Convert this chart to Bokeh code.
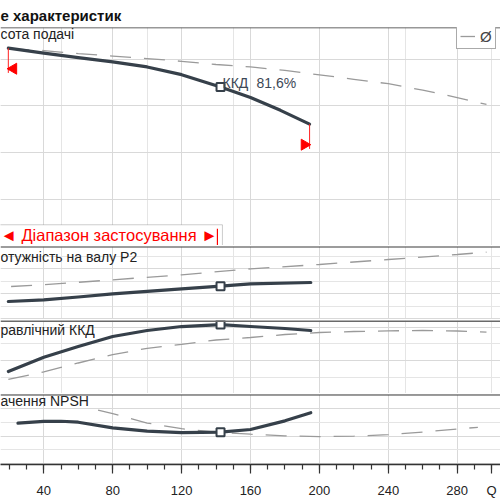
import math
from bokeh.plotting import figure
from bokeh.layouts import column
from bokeh.models import (Range1d, Grid, SingleIntervalTicker, FixedTicker, Label, Legend,
                          LegendItem, BoxAnnotation, Span)
from bokeh.core.properties import value
from bokeh.embed import file_html
from bokeh.resources import INLINE

# ---------------- texts ----------------
TITLE = "е характеристик"
LABEL_H = "сота подачі"
LABEL_P = "отужність на валу P2"
LABEL_EFF = "равлічний ККД"
LABEL_NPSH = "ачення NPSH"
RANGE_TEXT = "◄ Діапазон застосування ►"
LEGEND_TEXT = "Ø"
X_LABEL = "Q"
BEP_TEXT = "ККД"

# ---------------- data ----------------
x_ticks = [40, 80, 120, 160, 200, 240, 280]
x_label_pos = 300

# head (m)
q_h_solid = [19.4, 40, 60, 80, 100, 120, 142.6, 160, 177.4, 194.3]
h_solid = [42.33, 41.27, 40.32, 39.41, 38.31, 36.66, 34.02, 31.76, 29.02, 26.06]
q_h_dash = [19.4, 40, 60, 80, 100, 120, 140, 160, 180, 200, 220, 240, 260, 280, 297]
h_dash = [42.22, 41.82, 41.16, 40.64, 40.11, 39.52, 38.84, 38.31, 37.57, 36.62,
          35.67, 34.72, 33.35, 31.76, 30.28]

# shaft power P2 (kW)
q_p_solid = [19.4, 40, 60, 80, 100, 120, 142.6, 160, 195]
p_solid = [16.8, 17.48, 18.6, 19.88, 20.88, 21.88, 22.92, 23.88, 24.4]
q_p_dash = [21, 40, 80, 120, 160, 200, 240, 280, 297]
p_dash = [22.8, 23.48, 25.48, 27.48, 29.88, 31.6, 33.6, 35.6, 36.52]

# hydraulic efficiency (%)
q_e_solid = [19.4, 40, 60, 80, 100, 120, 142.6, 160, 180, 195]
e_solid = [53.4, 62.0, 68.4, 74.4, 78.0, 80.4, 81.6, 80.4, 79.2, 78.0]
q_e_dash = [19.4, 40, 60, 80, 100, 120, 140, 160, 180, 200, 220, 240, 260, 280, 297]
e_dash = [48.6, 53.2, 58.5, 63.5, 67.3, 69.7, 72.3, 73.8, 75.6, 76.8, 77.4, 77.8,
          78.0, 77.7, 77.0]

# NPSH (m)
q_n_solid = [25, 40, 50, 60, 80, 100, 120, 142.6, 160, 180, 195]
n_solid = [2.94, 3.06, 3.07, 3.0, 2.59, 2.35, 2.24, 2.28, 2.47, 3.1, 3.69]
q_n_dash = [71.5, 80, 100, 120, 140, 160, 180, 200, 220, 240, 260, 280, 292]
n_dash = [3.88, 3.62, 2.94, 2.53, 2.28, 2.13, 2.01, 1.96, 1.99, 2.1, 2.29, 2.51, 2.63]

# best efficiency point
q_bep = 142.6
h_bep = 34.02
p_bep = 22.92
e_bep = 81.6
n_bep = 2.28

# application range legend box
range_box_right_q = 143.7
range_box_top_h = 4.51
range_text_h = 2.29
range_mark_q = 140.8
range_mark_top_h = 3.66

# ---------------- style ----------------
SOLID = "#36404a"
DASH = "#9a9a9a"
GRID = "#d9d9d9"
FONT = "Liberation Sans"
W = 500

XR = Range1d(14.86, 305.14)


def base_fig(height, yr, top, bottom=0):
    p = figure(width=W, height=height, x_range=XR, y_range=yr, output_backend="svg",
               toolbar_location=None, x_axis_location=None, y_axis_location=None,
               min_border_left=0, min_border_right=0, min_border_top=top,
               min_border_bottom=bottom)
    p.outline_line_color = None
    p.background_fill_color = "white"
    p.border_fill_color = "white"
    return p


def add_grids(p, yint, with_x=True):
    if with_x:
        gx = Grid(dimension=0, ticker=FixedTicker(ticks=x_ticks),
                  grid_line_color=GRID, grid_line_width=1)
        p.add_layout(gx)
    gy = Grid(dimension=1, ticker=SingleIntervalTicker(interval=yint),
              grid_line_color=GRID, grid_line_width=1)
    p.add_layout(gy)


def panel_label(p, text, y):
    p.add_layout(Label(x=0, y=y, x_units="screen", y_units="screen", text=text,
                       text_font=FONT, text_font_size="14px", text_color="#222222",
                       text_baseline="top", text_align="left"))


def curves(p, qd, yd, qs, ys, qb, yb):
    r_dash = p.line(qd, yd, line_color=DASH, line_width=1.3, line_dash="21 13")
    p.line(qs, ys, line_color=SOLID, line_width=3.2, line_cap="round",
           line_join="round")
    p.scatter([qb], [yb], marker="square", size=8, fill_color="white",
              line_color=SOLID, line_width=2)
    return r_dash


# ---------- panel 1: head ----------
p1 = base_fig(245, Range1d(0.07, 46.76), top=24)
p1.title.text = TITLE
p1.title.text_font = FONT
p1.title.text_font_size = "15px"
p1.title.text_font_style = "bold"
p1.title.text_color = "#111111"
p1.title.align = "left"
p1.title.offset = 0
p1.title.standoff = 8
add_grids(p1, 10)
r_hd = curves(p1, q_h_dash, h_dash, q_h_solid, h_solid, q_bep, h_bep)

# application range markers on the head curve
q_min, q_max = q_h_solid[0], q_h_solid[-1]
h_min_end, h_max_end = h_solid[0], h_solid[-1]
drop = 5.3
p1.segment([q_min, q_max], [h_min_end, h_max_end], [q_min, q_max],
           [h_min_end - drop, h_max_end - drop], line_color="#ff2020", line_width=1)
p1.scatter([q_min + 3.0], [h_min_end - 4.4], marker="triangle", size=11,
           angle=math.pi / 2, fill_color="#ff0000", line_color="#ff0000")
p1.scatter([q_max - 3.0], [h_max_end - 4.4], marker="triangle", size=11,
           angle=-math.pi / 2, fill_color="#ff0000", line_color="#ff0000")

p1.text([q_bep], [h_bep], text=[BEP_TEXT], x_offset=2, y_offset=-4,
        text_font=value(FONT), text_font_size="14px", text_color="#3d4856",
        text_baseline="alphabetic", text_align="left")
p1.text([q_bep], [h_bep], text=[("%.1f%%" % e_bep).replace(".", ",")],
        x_offset=36, y_offset=-4, text_font=value(FONT), text_font_size="14px",
        text_color="#3d4856", text_baseline="alphabetic", text_align="left")

p1.add_layout(BoxAnnotation(left=XR.start - 3, right=range_box_right_q, bottom=-2,
                            top=range_box_top_h, fill_color="white", fill_alpha=1,
                            line_color="#555555", line_width=1, level="annotation"))
p1.add_layout(Label(x=0, y=range_text_h, x_units="screen", y_units="data",
                    text=RANGE_TEXT, text_font=FONT, text_font_size="16.5px",
                    text_color="#ff0000", text_baseline="middle"))
p1.segment([range_mark_q], [0.07], [range_mark_q], [range_mark_top_h],
           line_color="#ff0000", line_width=1.2, level="overlay")

p1.add_layout(Span(location=46.76, dimension="width", line_color="#333333",
                   line_width=1.5))
panel_label(p1, LABEL_H, 220)

legend = Legend(items=[LegendItem(label=LEGEND_TEXT, renderers=[r_hd])],
                location=(456, 196), orientation="vertical",
                label_text_font=FONT, label_text_font_size="15px",
                label_text_color="#444444", glyph_width=15, glyph_height=18,
                label_height=18, label_width=12, label_standoff=5, padding=3,
                margin=0, spacing=0,
                border_line_color="#555555", border_line_width=1,
                background_fill_color="white", background_fill_alpha=1)
p1.add_layout(legend)

# ---------- panel 2: power ----------
p2 = base_fig(74, Range1d(9.6, 38.8), top=1)
add_grids(p2, 10)
curves(p2, q_p_dash, p_dash, q_p_solid, p_solid, q_bep, p_bep)
p2.add_layout(Span(location=38.8, dimension="width", line_color="#3a3a3a", line_width=2))
panel_label(p2, LABEL_P, 71)

# ---------- panel 3: efficiency ----------
p3 = base_fig(74, Range1d(40.18, 84.02), top=1)
add_grids(p3, 20)
curves(p3, q_e_dash, e_dash, q_e_solid, e_solid, q_bep, e_bep)
p3.add_layout(Span(location=84.02, dimension="width", line_color="#6a6a6a", line_width=3))
panel_label(p3, LABEL_EFF, 71.7)

# ---------- panel 4: NPSH + x axis ----------
p4 = figure(width=W, height=107, x_range=XR, y_range=Range1d(-0.063, 5.007),
            output_backend="svg", toolbar_location=None, x_axis_location="below",
            y_axis_location=None, min_border_left=0, min_border_right=0,
            min_border_top=1, min_border_bottom=34)
p4.outline_line_color = None
add_grids(p4, 2, with_x=False)
ax = p4.xaxis[0]
ax.ticker = FixedTicker(ticks=x_ticks + [x_label_pos],
                        minor_ticks=list(range(10, 310, 10)))
ax.major_label_overrides = {x_label_pos: X_LABEL}
ax.axis_line_color = "#333333"
ax.axis_line_width = 1.5
ax.major_tick_line_color = "#333333"
ax.minor_tick_line_color = "#333333"
ax.major_tick_line_width = 1.2
ax.minor_tick_line_width = 1.2
ax.major_tick_out = 9
ax.major_tick_in = 0
ax.minor_tick_out = 5
ax.minor_tick_in = 0
ax.major_label_text_font = FONT
ax.major_label_text_font_size = "13px"
ax.major_label_text_color = "#222222"
ax.major_label_standoff = 9
p4.xgrid.grid_line_color = GRID
p4.xgrid.ticker = FixedTicker(ticks=x_ticks)
curves(p4, q_n_dash, n_dash, q_n_solid, n_solid, q_bep, n_bep)
p4.add_layout(Span(location=5.007, dimension="width", line_color="#3a3a3a", line_width=2))
panel_label(p4, LABEL_NPSH, 71.3)

layout = column(p1, p2, p3, p4, spacing=0)
open("out.html", "w").write(file_html(layout, INLINE))
